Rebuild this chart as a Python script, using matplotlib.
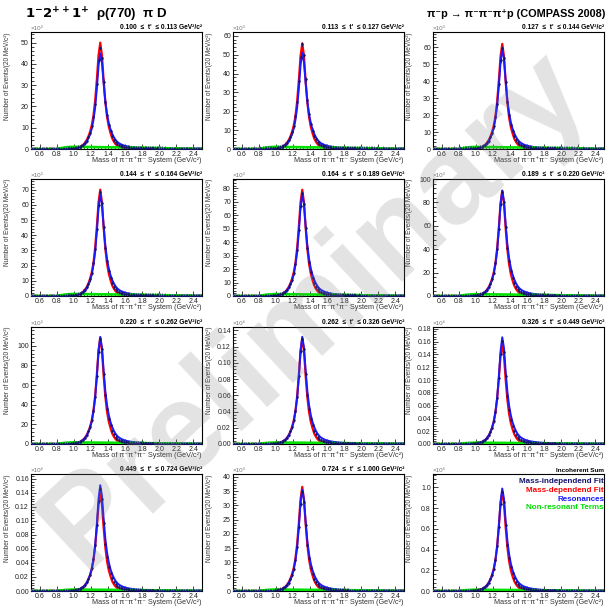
import numpy as np
import matplotlib
matplotlib.use("Agg")
import matplotlib.pyplot as plt
from matplotlib.ticker import MultipleLocator, FormatStrFormatter

plt.rcParams['font.family'] = ['Liberation Sans', 'DejaVu Sans']
plt.rcParams['mathtext.fontset'] = 'dejavusans'

# ---------------- data ----------------
# bin centres of the 3pi mass (20 MeV bins from 0.5 to 2.5 GeV)
mass = np.round(0.51 + 0.02 * np.arange(100), 2)

# t' bins (GeV^2/c^2)
t_low = ["0.100", "0.113", "0.127", "0.144", "0.164", "0.189",
         "0.220", "0.262", "0.326", "0.449", "0.724", None]
t_high = ["0.113", "0.127", "0.144", "0.164", "0.189", "0.220",
          "0.262", "0.326", "0.449", "0.724", "1.000", None]

# peak heights (displayed units)
red_peak = [50, 56, 62, 70, 79, 90, 108, 0.130, 0.157, 0.140, 36.5, 0.96]
blue_peak = [45, 51, 59, 67, 76, 90, 109, 0.132, 0.167, 0.151, 35.5, 0.99]
data_peak = [48, 56, 60, 69, 77, 90, 108, 0.131, 0.162, 0.147, 35.0, 0.97]
data_err = [1.0, 1.2, 1.3, 1.4, 1.5, 1.6, 1.8, 0.002, 0.0025, 0.0025, 0.7, 0.015]
green_peak = [1.0, 1.1, 1.2, 1.3, 1.4, 1.5, 1.6, 0.0018, 0.002, 0.002, 0.5, 0.012]

# axis settings
y_max = [55, 62, 69, 77, 87, 100, 119, 0.144, 0.183, 0.167, 41, 1.13]
y_step = [10, 10, 10, 10, 10, 20, 20, 0.02, 0.02, 0.02, 5, 0.2]
y_fmt = ['%d'] * 7 + ['%.2f'] * 3 + ['%d', '%.1f']
y_exp = ['3'] * 7 + ['6'] * 3 + ['3', '6']

# normalised line shapes (peak = 1)
red_shape = [0.0] * 20 + [
    0.001, 0.002, 0.003, 0.004, 0.005, 0.007, 0.010, 0.014, 0.020, 0.028,
    0.040, 0.058, 0.082, 0.115, 0.160, 0.220, 0.310, 0.450, 0.650, 0.880,
    1.000, 0.880, 0.640, 0.440, 0.300, 0.210, 0.150, 0.100, 0.068, 0.045,
    0.030, 0.020, 0.014, 0.010, 0.007, 0.005, 0.004, 0.003, 0.003, 0.002,
    0.002, 0.002, 0.002, 0.002, 0.002, 0.002, 0.002, 0.001, 0.001, 0.001,
    0.001, 0.001, 0.001, 0.001, 0.001, 0.001, 0.001, 0.001, 0.001, 0.001,
    0.001, 0.001, 0.001, 0.001, 0.001, 0.001, 0.001, 0.001, 0.001, 0.001,
    0.001, 0.001, 0.001, 0.001, 0.001, 0.001, 0.001, 0.001, 0.001, 0.001]
blue_shape = [0.0] * 20 + [
    0.001, 0.002, 0.003, 0.004, 0.005, 0.007, 0.009, 0.013, 0.019, 0.027,
    0.038, 0.055, 0.078, 0.110, 0.150, 0.210, 0.300, 0.430, 0.630, 0.870,
    1.000, 0.900, 0.680, 0.490, 0.360, 0.270, 0.205, 0.158, 0.122, 0.094,
    0.074, 0.060, 0.050, 0.042, 0.036, 0.031, 0.027, 0.024, 0.021, 0.019,
    0.017, 0.015, 0.0135, 0.012, 0.011, 0.010, 0.0095, 0.009, 0.0085, 0.008,
    0.0077, 0.0074, 0.0071, 0.0068, 0.0066, 0.0064, 0.0062, 0.006, 0.0058, 0.0056,
    0.0054, 0.0053, 0.0052, 0.005, 0.0049, 0.0048, 0.0047, 0.0046, 0.0045, 0.0044,
    0.0043, 0.0042, 0.0042, 0.0041, 0.0041, 0.004, 0.004, 0.004, 0.004, 0.004]
data_shape = [
    0.002, 0.001, 0.002, 0.001, 0.002, 0.002, 0.001, 0.002, 0.002, 0.001,
    0.002, 0.002, 0.003, 0.002, 0.002, 0.003, 0.002, 0.003, 0.003, 0.003,
    0.003, 0.004, 0.004, 0.005, 0.007, 0.009, 0.012, 0.016, 0.022, 0.030,
    0.042, 0.060, 0.083, 0.118, 0.158, 0.222, 0.312, 0.445, 0.640, 0.870,
    0.990, 0.890, 0.660, 0.460, 0.330, 0.235, 0.175, 0.125, 0.090, 0.066,
    0.050, 0.040, 0.032, 0.026, 0.022, 0.019, 0.016, 0.014, 0.012, 0.011,
    0.010, 0.009, 0.008, 0.008, 0.007, 0.007, 0.006, 0.006, 0.005, 0.005,
    0.005, 0.005, 0.004, 0.005, 0.004, 0.004, 0.004, 0.003, 0.004, 0.003,
    0.003, 0.003, 0.003, 0.002, 0.003, 0.002, 0.002, 0.003, 0.002, 0.002,
    0.002, 0.002, 0.001, 0.002, 0.002, 0.001, 0.002, 0.001, 0.001, 0.001]
green_shape = [0.0] * 15 + [
    0.10, 0.25, 0.40, 0.55, 0.70, 0.80, 0.88, 0.93, 0.97, 1.00,
    1.00, 1.00, 0.99, 0.98, 0.97, 0.96, 0.95, 0.94, 0.93, 0.92,
    0.91, 0.90, 0.89, 0.88, 0.87, 0.86, 0.85, 0.84, 0.83, 0.82,
    0.81, 0.80, 0.79, 0.78, 0.77, 0.76, 0.75, 0.74, 0.73, 0.72,
    0.71, 0.70, 0.69, 0.68, 0.67, 0.66, 0.65, 0.64, 0.63, 0.62,
    0.61, 0.60, 0.58, 0.56, 0.54, 0.52, 0.50, 0.48, 0.46, 0.44,
    0.42, 0.40, 0.38, 0.36, 0.34, 0.32, 0.30, 0.28, 0.26, 0.24,
    0.22, 0.20, 0.18, 0.16, 0.14, 0.12, 0.10, 0.08, 0.06, 0.05,
    0.04, 0.03, 0.02, 0.02, 0.01]

# ---------------- figure ----------------
W, H = 609, 606
fig = plt.figure(figsize=(W / 100, H / 100), dpi=100)

col_left = [31, 233, 433]
col_w = 171
row_bottom = [149, 296, 444, 591]
row_h = 117

RED = '#ff0000'
BLUE = '#1a1aff'
GREEN = '#00e000'
NAVY = '#14146e'

for k in range(12):
    r, c = divmod(k, 3)
    ax = fig.add_axes([col_left[c] / W, 1 - row_bottom[r] / H, col_w / W, row_h / H])
    red = np.array(red_shape) * red_peak[k]
    blue = np.array(blue_shape) * blue_peak[k]
    dat = np.array(data_shape) * data_peak[k]
    grn = np.array(green_shape) * green_peak[k]

    ax.plot(mass, red, color=RED, lw=1.6, zorder=3, solid_joinstyle='round')
    ax.plot(mass, blue, color=BLUE, lw=1.4, zorder=4, solid_joinstyle='round')
    ax.plot(mass, grn, color=GREEN, lw=1.9, zorder=5)
    ax.errorbar(mass, dat, yerr=data_err[k], fmt='o', ms=0.8, color=NAVY,
                ecolor=NAVY, elinewidth=0.45, capsize=0, zorder=6)

    ax.set_xlim(0.5, 2.5)
    ax.set_ylim(0, y_max[k])
    ax.xaxis.set_minor_locator(MultipleLocator(0.04))
    ax.xaxis.set_major_formatter(FormatStrFormatter('%.1f'))
    ax.set_xticks(np.round(np.arange(0.6, 2.41, 0.2), 1))
    ax.yaxis.set_major_locator(MultipleLocator(y_step[k]))
    ax.yaxis.set_minor_locator(MultipleLocator(y_step[k] / 5))
    ax.yaxis.set_major_formatter(FormatStrFormatter(y_fmt[k]))
    ax.tick_params(which='both', direction='in', top=False, right=False,
                   labelsize=5, pad=1.5, width=0.6, colors='#222222')
    ax.tick_params(which='major', length=3.5)
    ax.tick_params(which='minor', length=1.8)
    for s in ax.spines.values():
        s.set_linewidth(0.8)

    ax.set_ylabel("Number of Events/(20 MeV/c²)", fontsize=4.7, loc='top',
                  color='#333333')
    ax.yaxis.set_label_coords(-0.115, 1.0)
    ax.set_xlabel("Mass of π⁻π⁺π⁻ System (GeV/c²)", fontsize=5.2, loc='right',
                  color='#333333')
    ax.xaxis.set_label_coords(1.0, -0.065)

    ax.text(0.0, 1.005, "×10" + ("³" if y_exp[k] == '3' else "⁶"),
            transform=ax.transAxes, ha='left', va='bottom', fontsize=4.5,
            color='#777777')

    if t_low[k] is not None:
        ax.text(1.0, 1.01, f"{t_low[k]}  ≤  t'  ≤ {t_high[k]} GeV²/c²",
                transform=ax.transAxes, ha='right', va='bottom', fontsize=4.8,
                fontweight='bold')
    else:
        ax.text(1.0, 1.01, "Incoherent Sum", transform=ax.transAxes,
                ha='right', va='bottom', fontsize=4.6, fontweight='bold')
        entries = [("Mass-independend Fit", NAVY, 0.94),
                   ("Mass-dependend Fit", RED, 0.857),
                   ("Resonances", BLUE, 0.785),
                   ("Non-resonant Terms", GREEN, 0.712)]
        for txt, col, yy in entries:
            ax.text(1.0, yy, txt, transform=ax.transAxes, ha='right',
                    va='center', fontsize=5.8, fontweight='bold', color=col)

fig.text(25 / W, 1 - 15 / H, r"$\mathbf{1^{-}2^{++}1^{+}}$  ρ(770)  π D",
         ha='left', va='center', fontsize=9.5, fontweight='bold')
fig.text(605 / W, 1 - 14 / H, "π⁻p → π⁻π⁻π⁺p (COMPASS 2008)",
         ha='right', va='center', fontsize=7.8, fontweight='bold')

# watermark
fig.text(0.517, 0.488, "Preliminary", rotation=43, fontsize=92,
         fontweight='bold', color='gray', alpha=0.22, ha='center',
         va='center', zorder=20)

fig.savefig("out.png", dpi=100)
